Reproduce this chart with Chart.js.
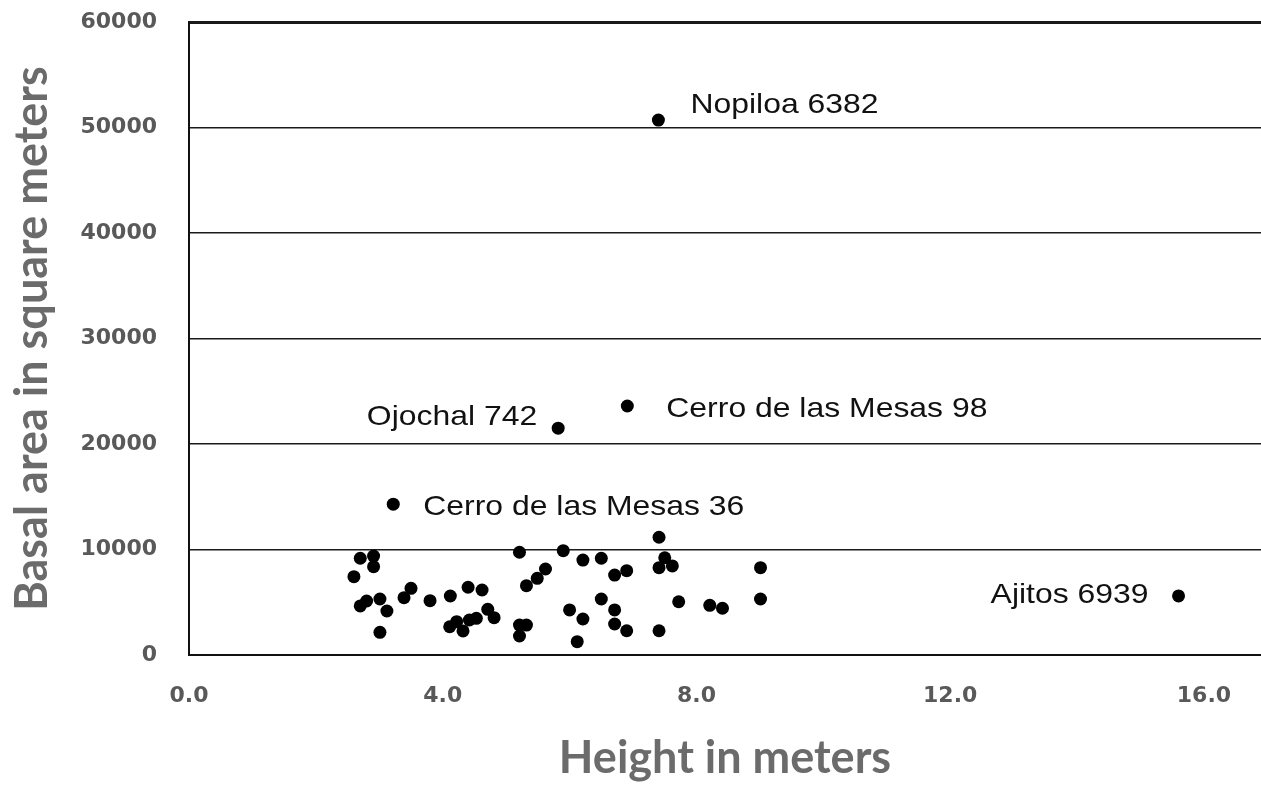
<!DOCTYPE html>
<html lang="en">
<head>
    <meta charset="UTF-8">
    <title>Basal area vs height</title>
    <script src="https://cdn.jsdelivr.net/npm/chart.js@4.4.1/dist/chart.umd.min.js"></script>
    <style>
        body {
            margin: 0;
            background-color: #ffffff;
        }
        .chart-container {
            position: relative;
            width: 1261px;
            height: 785px;
        }
    </style>
</head>
<body>
    <div class="chart-container">
        <canvas id="scatterChart"></canvas>
    </div>

    <script>
        // unlabelled mounds: height (m) and basal area (m2)
        const heights = [2.70, 2.91, 2.91, 2.60, 2.70, 2.80, 3.01, 3.12, 3.01, 3.39,
                         3.50, 3.80, 4.12, 4.40, 4.62, 4.71, 4.81, 4.11, 4.22, 4.32,
                         4.42, 4.53, 5.21, 5.32, 5.49, 5.62, 5.21, 5.32, 5.21, 5.90,
                         6.21, 6.50, 6.71, 6.90, 7.41, 7.50, 7.41, 7.62, 9.01, 6.00,
                         6.21, 6.50, 6.71, 6.71, 6.90, 6.12, 7.41, 7.72, 8.21, 8.41,
                         9.01];
        const areas = [9170, 9380, 8370, 7420, 4650, 5120, 5310, 4170, 2150, 5430,
                       6320, 5150, 5590, 6420, 6160, 4330, 3540, 2680, 3160, 2280,
                       3320, 3480, 9740, 6570, 7270, 8150, 2840, 2840, 1800, 9890,
                       9000, 9170, 7580, 7990, 11160, 9220, 8280, 8440, 8280, 4270,
                       3410, 5310, 4270, 2940, 2300, 1260, 2300, 5050, 4710, 4430,
                       5310];

        // named sites
        const siteNames = ['Nopiloa 6382', 'Cerro de las Mesas 98', 'Ojochal 742',
                           'Cerro de las Mesas 36', 'Ajitos 6939'];
        const siteHeights = [7.40, 6.91, 5.82, 3.22, 15.60];
        const siteAreas = [50700, 23600, 21500, 14300, 5600];

        const xTicks = [0, 4, 8, 12, 16];
        const yTicks = [0, 10000, 20000, 30000, 40000, 50000, 60000];

        const allPoints = heights.map((h, i) => ({ x: h, y: areas[i] }))
            .concat(siteHeights.map((h, i) => ({ x: h, y: siteAreas[i] })));

        // label placement next to each named site (px offsets, alignment)
        const labelPlacement = [
            { dx: 32, dy: -15, align: 'left' },
            { dx: 39, dy: 3, align: 'left' },
            { dx: -21, dy: -11, align: 'right' },
            { dx: 30, dy: 3, align: 'left' },
            { dx: -30, dy: -1, align: 'right' }
        ];

        const siteLabels = {
            id: 'siteLabels',
            afterDatasetsDraw(chart) {
                const ctx = chart.ctx;
                const xs = chart.scales.x;
                const ys = chart.scales.y;
                ctx.save();
                ctx.font = '28px "Liberation Sans", Arial, sans-serif';
                ctx.fillStyle = '#111111';
                ctx.textBaseline = 'middle';
                siteNames.forEach((name, i) => {
                    const p = labelPlacement[i];
                    const px = xs.getPixelForValue(siteHeights[i]) + p.dx;
                    const py = ys.getPixelForValue(siteAreas[i]) + p.dy;
                    ctx.save();
                    ctx.translate(px, py);
                    ctx.scale(1.14, 1);
                    ctx.textAlign = p.align;
                    ctx.fillText(name, 0, 0);
                    ctx.restore();
                });
                ctx.restore();
            }
        };

        const ctx = document.getElementById('scatterChart').getContext('2d');
        const chart = new Chart(ctx, {
            type: 'scatter',
            data: {
                datasets: [{
                    data: allPoints,
                    backgroundColor: '#000000',
                    borderColor: '#000000',
                    borderWidth: 0,
                    pointRadius: 6.5,
                    pointHoverRadius: 6.5
                }]
            },
            options: {
                responsive: true,
                maintainAspectRatio: false,
                animation: false,
                layout: {
                    autoPadding: false,
                    padding: { top: 22, right: 0, left: 0, bottom: 0 }
                },
                plugins: {
                    legend: { display: false },
                    tooltip: { enabled: false }
                },
                scales: {
                    x: {
                        type: 'linear',
                        min: 0,
                        max: 16.9,
                        afterFit(scale) {
                            scale.height = 130;
                            scale.paddingLeft = 0;
                            scale.paddingRight = 0;
                        },
                        afterBuildTicks(scale) {
                            scale.ticks = xTicks.map(v => ({ value: v }));
                        },
                        ticks: {
                            padding: 28,
                            color: '#595959',
                            font: { family: '"DejaVu Sans", sans-serif', size: 22, weight: 'bold' },
                            callback: v => Number(v).toFixed(1)
                        },
                        grid: { display: false, drawTicks: false },
                        border: { display: true, color: '#111111', width: 2 },
                        title: {
                            display: true,
                            text: 'Height in meters',
                            color: '#6b6b6b',
                            padding: { top: 0, bottom: 0 },
                            font: { family: 'Lato, sans-serif', size: 45, weight: 'bold' }
                        }
                    },
                    y: {
                        type: 'linear',
                        min: 0,
                        max: 60000,
                        afterFit(scale) {
                            scale.width = 189;
                            scale.paddingTop = 0;
                            scale.paddingBottom = 0;
                        },
                        afterBuildTicks(scale) {
                            scale.ticks = yTicks.map(v => ({ value: v }));
                        },
                        ticks: {
                            padding: 32,
                            color: '#595959',
                            font: { family: '"DejaVu Sans", sans-serif', size: 22, weight: 'bold' },
                            callback: v => String(v)
                        },
                        grid: {
                            color: '#1a1a1a',
                            drawTicks: false,
                            lineWidth: c => (c.tick && c.tick.value === 60000 ? 3 : 1.5)
                        },
                        border: { display: true, color: '#111111', width: 2 },
                        title: {
                            display: true,
                            text: 'Basal area in square meters',
                            color: '#6b6b6b',
                            padding: { top: 5, bottom: 0 },
                            font: { family: 'Lato, sans-serif', size: 45, weight: 'bold' }
                        }
                    }
                }
            },
            plugins: [siteLabels]
        });
    </script>
</body>
</html>
